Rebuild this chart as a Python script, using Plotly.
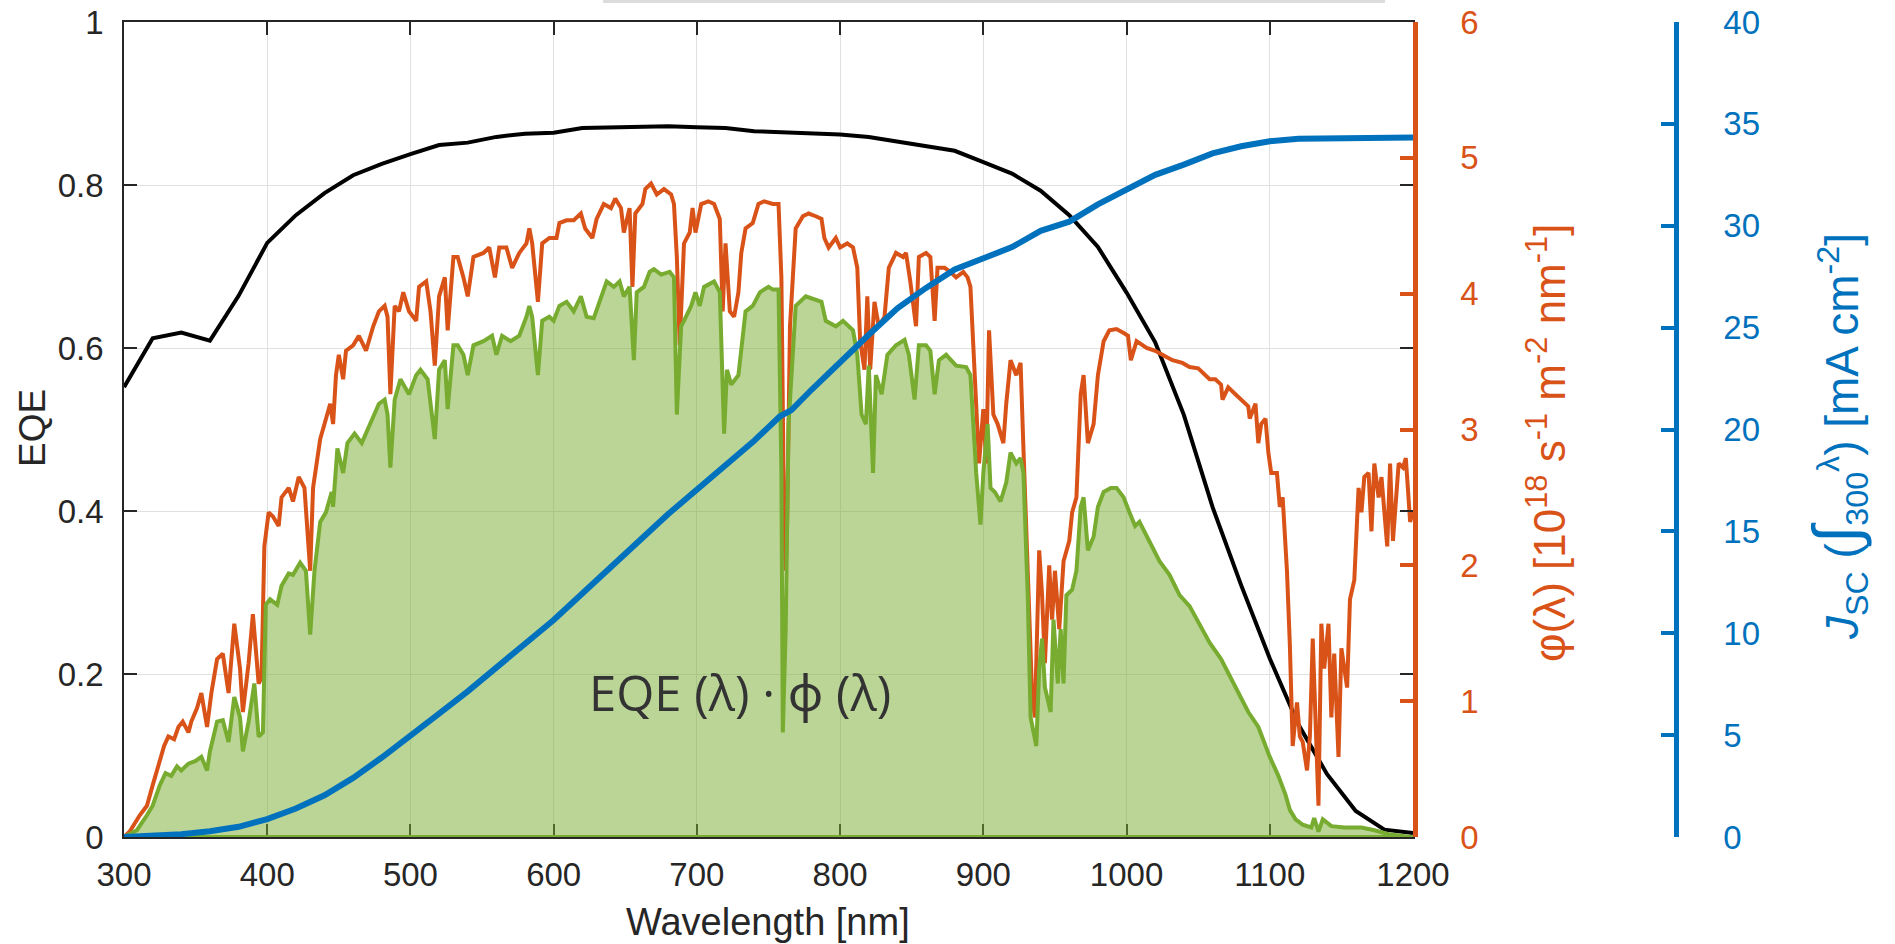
import plotly.graph_objects as go

# ---------------------------------------------------------------------------
# Data
# ---------------------------------------------------------------------------
# External quantum efficiency of the cell (left axis)
eqe_wl = [300, 320, 340, 360, 380, 400, 420, 440, 460, 480, 500, 520, 540, 560,
          580, 600, 620, 640, 660, 680, 700, 720, 740, 760, 780, 800, 820, 840,
          860, 880, 900, 920, 940, 960, 980, 1000, 1020, 1040, 1060, 1080, 1100,
          1120, 1140, 1160, 1180, 1200]
eqe = [0.552, 0.612, 0.619, 0.609, 0.664, 0.729, 0.763, 0.790, 0.812, 0.826,
       0.838, 0.849, 0.852, 0.859, 0.863, 0.864, 0.870, 0.871, 0.872, 0.872,
       0.871, 0.870, 0.866, 0.865, 0.864, 0.862, 0.859, 0.853, 0.848, 0.842,
       0.828, 0.814, 0.793, 0.763, 0.724, 0.668, 0.607, 0.518, 0.405, 0.309,
       0.219, 0.138, 0.077, 0.032, 0.009, 0.005]

# Photon flux phi(lambda), 1e18 s^-1 m^-2 nm^-1 (orange axis)
phi_wl = [300, 304, 311, 316, 320, 325, 328, 331, 335, 338, 341, 345, 347, 351,
          354, 358, 361, 365, 369, 373, 377, 381, 383, 387, 390, 394, 396, 398,
          401, 404, 408, 410, 415, 418, 422, 426, 430, 432, 437, 440, 444, 446,
          448, 450, 453, 455, 460, 464, 469, 474, 478, 482, 484, 486, 489, 492,
          495, 499, 504, 506, 511, 514, 517, 520, 524, 526, 530, 533, 537, 540,
          544, 551, 555, 559, 562, 567, 571, 576, 581, 583, 585, 589, 592, 597,
          602, 604, 609, 614, 619, 622, 627, 630, 635, 640, 643, 647, 649, 653,
          655, 657, 662, 664, 668, 672, 677, 682, 684, 686, 688, 691, 695, 697,
          699, 703, 708, 712, 716, 718, 720, 723, 726, 729, 731, 734, 739, 743,
          747, 753, 757, 759, 761, 762, 763, 765, 769, 774, 778, 783, 787, 789,
          792, 797, 800, 805, 809, 812, 814, 817, 819, 821, 824, 827, 831, 834,
          839, 844, 846, 849, 853, 855, 860, 863, 866, 868, 873, 877, 881, 886,
          889, 891, 894, 897, 900, 902, 904, 907, 910, 914, 916, 919, 923, 926,
          928, 931, 934, 936, 939, 941, 943, 946, 948, 950, 953, 956, 960, 962,
          965, 968, 970, 973, 977, 980, 984, 988, 993, 998, 1001, 1003, 1007,
          1014, 1020, 1025, 1032, 1039, 1044, 1050, 1055, 1058, 1062, 1066, 1067,
          1071, 1076, 1080, 1085, 1086, 1090, 1092, 1094, 1097, 1099, 1101, 1105,
          1107, 1109, 1112, 1114, 1116, 1119, 1121, 1123, 1126, 1128, 1130, 1133,
          1134, 1136, 1138, 1141, 1143, 1145, 1148, 1150, 1154, 1156, 1159, 1162,
          1164, 1166, 1169, 1171, 1173, 1176, 1178, 1182, 1184, 1186, 1190, 1193,
          1195, 1198, 1200]
phi = [0.00, 0.04, 0.16, 0.23, 0.38, 0.56, 0.67, 0.74, 0.72, 0.81, 0.85, 0.77,
       0.85, 0.95, 1.06, 0.81, 1.06, 1.31, 1.35, 1.06, 1.57, 1.24, 0.92, 1.28,
       1.64, 1.13, 1.17, 2.14, 2.39, 2.36, 2.29, 2.50, 2.57, 2.47, 2.65, 2.57,
       1.96, 2.57, 2.93, 3.04, 3.19, 3.04, 3.40, 3.55, 3.37, 3.58, 3.62, 3.69,
       3.58, 3.76, 3.87, 3.91, 3.83, 3.26, 3.91, 3.87, 4.01, 3.87, 3.80, 4.05,
       4.09, 3.87, 3.47, 3.98, 4.12, 3.73, 4.27, 4.27, 4.12, 3.98, 4.27, 4.30,
       4.34, 4.12, 4.34, 4.34, 4.19, 4.30, 4.37, 4.48, 4.37, 3.94, 4.37, 4.41,
       4.41, 4.52, 4.54, 4.54, 4.59, 4.48, 4.41, 4.55, 4.66, 4.63, 4.70, 4.63,
       4.45, 4.63, 4.05, 4.59, 4.66, 4.77, 4.81, 4.73, 4.77, 4.73, 4.66, 4.27,
       3.62, 4.37, 4.45, 4.63, 4.45, 4.66, 4.68, 4.66, 4.55, 3.87, 4.37, 3.87,
       3.83, 4.01, 4.30, 4.48, 4.52, 4.66, 4.68, 4.66, 4.66, 4.12, 2.21, 1.96,
       2.32, 3.76, 4.48, 4.57, 4.59, 4.57, 4.55, 4.41, 4.34, 4.41, 4.34, 4.37,
       4.34, 4.19, 3.65, 3.44, 3.98, 3.44, 3.94, 3.76, 3.83, 4.19, 4.30, 4.27,
       4.30, 4.09, 3.76, 4.27, 4.30, 4.27, 3.80, 4.19, 4.19, 4.16, 4.12, 4.16,
       4.12, 4.05, 3.40, 2.75, 3.15, 2.75, 3.73, 3.11, 3.04, 2.90, 3.19, 3.51,
       3.40, 3.49, 2.86, 1.96, 1.06, 0.88, 2.11, 1.78, 1.28, 2.00, 1.60, 1.96,
       1.53, 2.03, 2.18, 2.39, 2.50, 3.26, 3.40, 2.90, 3.04, 3.40, 3.65, 3.73,
       3.74, 3.71, 3.69, 3.51, 3.65, 3.60, 3.58, 3.55, 3.51, 3.49, 3.46, 3.45,
       3.40, 3.37, 3.37, 3.33, 3.22, 3.31, 3.26, 3.22, 3.17, 3.08, 3.19, 2.90,
       3.04, 3.08, 2.83, 2.68, 2.68, 2.43, 2.50, 1.96, 1.42, 0.67, 0.99, 0.74,
       0.70, 0.49, 0.74, 1.46, 0.59, 0.23, 1.57, 1.24, 1.57, 0.88, 1.35, 0.59,
       1.39, 1.10, 1.75, 1.89, 2.57, 2.39, 2.65, 2.68, 2.25, 2.75, 2.50, 2.65,
       2.14, 2.75, 2.18, 2.75, 2.72, 2.79, 2.32, 2.40]

# Product EQE(lambda) * phi(lambda), same units as phi (green, filled)
prod_wl = [300, 309, 316, 320, 325, 329, 333, 337, 340, 345, 350, 354, 358, 360,
           365, 369, 373, 377, 381, 383, 387, 391, 394, 397, 399, 402, 407, 410,
           415, 418, 423, 427, 430, 433, 437, 441, 445, 446, 449, 453, 456, 461,
           466, 469, 474, 478, 482, 484, 486, 489, 493, 499, 504, 507, 512, 517,
           520, 524, 526, 530, 533, 537, 540, 544, 551, 557, 560, 564, 570, 576,
           581, 583, 585, 589, 592, 597, 600, 604, 609, 614, 619, 623, 628, 633,
           637, 642, 646, 649, 653, 656, 658, 663, 667, 670, 675, 681, 684, 686,
           689, 691, 696, 699, 702, 705, 712, 716, 719, 721, 724, 729, 732, 734,
           739, 744, 750, 753, 757, 759, 760, 762, 764, 769, 776, 781, 787, 790,
           797, 802, 809, 812, 815, 818, 820, 823, 825, 829, 833, 839, 845, 848,
           852, 855, 860, 863, 866, 869, 874, 881, 888, 891, 895, 898, 900, 903,
           905, 908, 912, 916, 919, 923, 926, 928, 931, 933, 937, 939, 941, 943,
           947, 949, 952, 954, 956, 958, 962, 965, 968, 970, 973, 977, 980, 984,
           989, 993, 998, 1002, 1006, 1009, 1016, 1023, 1030, 1037, 1044, 1051,
           1058, 1066, 1076, 1085, 1092, 1100, 1106, 1111, 1114, 1118, 1123, 1129,
           1131, 1134, 1137, 1143, 1152, 1164, 1173, 1183, 1198, 1200]
prod = [0.00, 0.05, 0.16, 0.23, 0.38, 0.47, 0.45, 0.52, 0.49, 0.54, 0.56, 0.59,
        0.49, 0.63, 0.85, 0.86, 0.70, 1.03, 0.88, 0.63, 0.85, 1.13, 0.74, 0.77,
        1.71, 1.75, 1.71, 1.85, 1.94, 1.93, 2.02, 1.96, 1.49, 1.96, 2.32, 2.39,
        2.54, 2.43, 2.86, 2.68, 2.90, 2.97, 2.90, 2.97, 3.08, 3.19, 3.22, 3.11,
        2.72, 3.22, 3.37, 3.26, 3.40, 3.44, 3.37, 2.93, 3.44, 3.51, 3.15, 3.62,
        3.62, 3.55, 3.40, 3.62, 3.65, 3.69, 3.55, 3.69, 3.65, 3.69, 3.83, 3.91,
        3.83, 3.40, 3.80, 3.83, 3.80, 3.91, 3.94, 3.87, 3.98, 3.83, 3.82, 3.98,
        4.09, 4.05, 4.09, 3.98, 4.05, 3.51, 4.01, 4.05, 4.16, 4.18, 4.14, 4.16,
        4.12, 3.11, 3.76, 3.80, 3.91, 4.01, 3.91, 4.05, 4.09, 4.01, 2.97, 3.44,
        3.33, 3.40, 3.69, 3.87, 3.91, 4.01, 4.05, 4.03, 4.03, 2.68, 0.77, 1.53,
        3.04, 3.91, 3.98, 3.96, 3.94, 3.80, 3.76, 3.80, 3.73, 3.55, 3.11, 3.04,
        3.47, 2.68, 3.40, 3.26, 3.55, 3.62, 3.66, 3.55, 3.22, 3.62, 3.62, 3.58,
        3.26, 3.51, 3.55, 3.47, 3.46, 3.40, 2.68, 2.30, 2.68, 3.04, 2.57, 2.54,
        2.47, 2.61, 2.83, 2.75, 2.79, 2.68, 1.78, 0.88, 0.67, 1.24, 1.46, 1.10,
        0.92, 1.60, 1.13, 1.53, 1.13, 1.78, 1.82, 1.96, 2.43, 2.50, 2.11, 2.21,
        2.43, 2.54, 2.57, 2.57, 2.50, 2.39, 2.29, 2.32, 2.18, 2.03, 1.93, 1.78,
        1.70, 1.57, 1.43, 1.31, 1.10, 0.92, 0.81, 0.59, 0.45, 0.31, 0.20, 0.13,
        0.09, 0.07, 0.14, 0.04, 0.13, 0.08, 0.07, 0.07, 0.05, 0.02, 0.00, 0.00]

# Cumulative short-circuit current density from 300 nm, mA cm^-2 (blue axis)
jsc_wl = [300, 320, 340, 360, 380, 400, 420, 440, 460, 480, 500, 520, 540, 560,
          580, 600, 620, 640, 660, 680, 700, 720, 740, 758, 766, 780, 800, 820,
          840, 860, 880, 900, 920, 940, 960, 980, 1000, 1020, 1040, 1060, 1080,
          1100, 1120, 1140, 1160, 1200]
jsc = [0.0, 0.05, 0.14, 0.28, 0.50, 0.88, 1.40, 2.05, 2.90, 3.90, 4.95, 6.05,
       7.15, 8.30, 9.45, 10.65, 11.95, 13.30, 14.55, 15.85, 17.05, 18.20, 19.45,
       20.65, 20.95, 21.95, 23.35, 24.65, 25.95, 26.95, 27.85, 28.40, 28.95,
       29.75, 30.20, 31.05, 31.80, 32.50, 33.00, 33.55, 33.90, 34.15, 34.27,
       34.30, 34.32, 34.33]

# Axis tick values
x_ticks = [300, 400, 500, 600, 700, 800, 900, 1000, 1100, 1200]
eqe_ticks = [0, 0.2, 0.4, 0.6, 0.8, 1]
phi_ticks = [0, 1, 2, 3, 4, 5, 6]
jsc_ticks = [0, 5, 10, 15, 20, 25, 30, 35, 40]

# ---------------------------------------------------------------------------
# Styling
# ---------------------------------------------------------------------------
W, H = 1895, 944
ML, MR, MT, MB = 124, 20, 22, 107
PLOT_RIGHT = 1413          # pixel column of the orange axis
JSC_AXIS_X = 1676          # pixel column of the detached blue axis
paper_w = W - ML - MR
paper_h = H - MT - MB


def px(x):
    return (x - ML) / paper_w


def py(y):
    return (H - MB - y) / paper_h


DARK = "#262626"
ORANGE = "#d95319"
BLUE = "#0072bd"
GREEN = "#77ac30"
GRID = "#e0e0e0"
FONT = "Liberation Sans, Arial, Helvetica, sans-serif"

fig = go.Figure()

fig.add_trace(go.Scatter(x=eqe_wl, y=eqe, mode="lines", yaxis="y",
                         line=dict(color="black", width=4),
                         hoverinfo="skip", showlegend=False))

# filled area under EQE*phi
fig.add_trace(go.Scatter(x=prod_wl + [prod_wl[-1], prod_wl[0]],
                         y=prod + [0, 0], mode="lines", yaxis="y2",
                         fill="toself", fillcolor="rgba(119,172,48,0.5)",
                         line=dict(width=0), hoverinfo="skip",
                         showlegend=False))

fig.add_trace(go.Scatter(x=phi_wl, y=phi, mode="lines", yaxis="y2",
                         line=dict(color=ORANGE, width=4),
                         hoverinfo="skip", showlegend=False))

# outline of the EQE*phi area, including its base along zero
fig.add_trace(go.Scatter(x=prod_wl + [prod_wl[-1], prod_wl[0]],
                         y=prod + [0, 0], mode="lines", yaxis="y2",
                         line=dict(color=GREEN, width=4),
                         hoverinfo="skip", showlegend=False))

fig.add_trace(go.Scatter(x=jsc_wl, y=jsc, mode="lines", yaxis="y3",
                         line=dict(color=BLUE, width=6),
                         hoverinfo="skip", showlegend=False))

tick_font = dict(family=FONT, size=33)

fig.update_layout(
    width=W, height=H,
    margin=dict(l=ML, r=MR, t=MT, b=MB, pad=0, autoexpand=False),
    paper_bgcolor="white", plot_bgcolor="white",
    showlegend=False,
    xaxis=dict(domain=[0, px(PLOT_RIGHT)], range=[300, 1200],
               tickvals=x_ticks, ticks="inside", ticklen=13, tickwidth=1.5,
               tickcolor=DARK, showline=True, linecolor=DARK, linewidth=1.5,
               mirror="ticks", showgrid=True, gridcolor=GRID, gridwidth=1,
               zeroline=False, tickfont=dict(tick_font, color=DARK),
               ticklabelstandoff=8, layer="below traces", automargin=False),
    yaxis=dict(range=[0, 1], tickvals=eqe_ticks, ticks="inside", ticklen=13,
               tickwidth=1.5, tickcolor=DARK, showline=True, linecolor=DARK,
               linewidth=1.5, mirror="ticks", showgrid=True, gridcolor=GRID,
               gridwidth=1, zeroline=False, automargin=False,
               tickfont=dict(tick_font, color=DARK), ticklabelstandoff=12),
    yaxis2=dict(range=[0, 6], tickvals=phi_ticks, overlaying="y", side="right",
                anchor="x", ticks="inside", ticklen=13, tickwidth=4,
                tickcolor=ORANGE, showline=True, linecolor=ORANGE,
                linewidth=4.5, showgrid=False, zeroline=False,
                automargin=False,
                tickfont=dict(tick_font, color=ORANGE), ticklabelstandoff=36),
    yaxis3=dict(range=[0, 40], tickvals=jsc_ticks, overlaying="y",
                side="right", anchor="free", position=px(JSC_AXIS_X),
                ticks="inside", ticklen=13, tickwidth=4, tickcolor=BLUE,
                showline=True, linecolor=BLUE, linewidth=4.5, showgrid=False,
                zeroline=False, automargin=False,
                tickfont=dict(tick_font, color=BLUE), ticklabelstandoff=38),
)

annotations = [
    dict(text="EQE", x=px(32), y=py(428), textangle=-90,
         font=dict(family=FONT, size=37, color=DARK)),
    dict(text="Wavelength [nm]", x=px(768), y=py(922),
         font=dict(family=FONT, size=38, color=DARK)),
    dict(text="φ(λ) [10<sup>18</sup> s<sup>-1</sup> m<sup>-2</sup> nm<sup>-1</sup>]",
         x=px(1546), y=py(443), textangle=-90,
         font=dict(family=FONT, size=44, color=ORANGE)),
    dict(text="<i>J</i><sub>SC</sub> (<span style='font-size:64px'>∫</span>"
              "<sub>300</sub><sup>λ</sup>) [mA cm<sup>-2</sup>]",
         x=px(1838), y=py(437), textangle=-90,
         font=dict(family=FONT, size=46, color=BLUE)),
    dict(text="EQE (λ) · ϕ (λ)", x=px(740), y=py(692),
         font=dict(family="Open Sans, Noto Sans, sans-serif", size=49,
                   color="#333333")),
]
for a in annotations:
    a.update(xref="paper", yref="paper", showarrow=False,
             xanchor="center", yanchor="middle")
fig.update_layout(annotations=annotations)

# thin grey rule along the very top edge of the canvas
fig.add_shape(type="rect", xref="paper", yref="paper",
              x0=px(603), x1=px(1385), y0=py(3), y1=py(0),
              fillcolor="#dcdcdc", line=dict(width=0), layer="above")

fig.write_html("out.html")
